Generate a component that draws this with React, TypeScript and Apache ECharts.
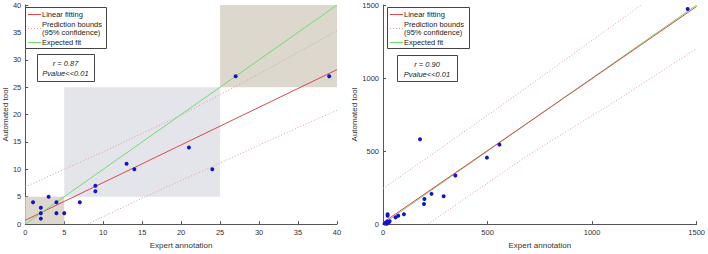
import React, { useEffect, useRef } from "react";
import * as echarts from "echarts";

// ---------- data ----------
const leftPoints: [number, number][] = [
  [1, 4], [2, 3], [2, 2], [2, 1], [3, 5], [4, 4], [4, 2], [5, 2], [7, 4],
  [9, 7], [9, 6], [13, 11], [14, 10], [21, 14], [24, 10], [27, 27], [39, 27],
];
const leftFit: [number, number][] = [[0, 0.7], [40, 28.2]];
const leftUpper: [number, number][] = [[0, 6.8], [10, 13.2], [20, 19.9], [30, 27.4], [40, 35.3]];
const leftLower: [number, number][] = [[8, 0], [16, 5.4], [24, 10.5], [32, 15.7], [40, 20.8]];
const leftExpected: [number, number][] = [[0, 0], [40, 40]];
const leftRegions: [number, number][] = [[0, 5], [5, 25], [25, 40]];

const rightPoints: [number, number][] = [
  [1457, 1472], [557, 544], [497, 455], [346, 332], [177, 581], [232, 207],
  [290, 190], [198, 172], [196, 137], [100, 68], [73, 57], [60, 46],
  [22, 68], [22, 57], [12, 8], [20, 18], [28, 12], [32, 20], [8, 4], [18, 2],
];
const rightFit: [number, number][] = [[0, 10], [1500, 1490]];
const rightUpper: [number, number][] = [[0, 243], [250, 493], [500, 745], [750, 1000], [1000, 1258], [1235, 1500]];
const rightLower: [number, number][] = [[215, 0], [698, 476], [1100, 830], [1500, 1203]];
const rightExpected: [number, number][] = [[0, 0], [1500, 1500]];

const legendLabels = ["Linear fitting", "Prediction bounds", "(95% confidence)", "Expected fit"];
const leftStats = ["r = 0.87", "Pvalue<<0.01"];
const rightStats = ["r = 0.90", "Pvalue<<0.01"];
const xName = "Expert annotation";
const yName = "Automated tool";

// ---------- styles ----------
const FONT = "Liberation Sans";
const RED = "#e0474c";
const GREEN = "#6fdc6f";
const BOUND = "#e89a9a";
const BLUE = "#1414c8";
const regionColors = ["#dcd8ce", "#e4e5ea", "#dcd8ce"];

function axis(max: number, interval: number, gridIndex: number, isX: boolean, gap: number) {
  return {
    type: "value",
    gridIndex,
    min: 0,
    max,
    interval,
    name: isX ? xName : yName,
    nameLocation: "middle",
    nameGap: gap,
    nameTextStyle: { fontFamily: FONT, fontSize: 8, color: "#333" },
    axisLine: { show: true, lineStyle: { color: "#555", width: 1 } },
    axisTick: { show: true, inside: true, length: 3, lineStyle: { color: "#555" } },
    axisLabel: {
      fontFamily: FONT, fontSize: 7.5, color: "#333", margin: 4,
      formatter: (v: number) => String(v),
    },
    splitLine: { show: false },
  };
}

function lineSeries(data: [number, number][], idx: number, color: string, dotted = false, z = 3) {
  return {
    type: "line",
    xAxisIndex: idx,
    yAxisIndex: idx,
    data,
    showSymbol: false,
    symbol: "none",
    clip: true,
    z,
    lineStyle: { color, width: 1, type: dotted ? [1, 2] : "solid" },
  };
}

function legendGraphic(x0: number, y0: number, w: number, h: number) {
  return [
    { type: "rect", shape: { x: x0 + 0.5, y: y0 + 0.5, width: w, height: h }, style: { fill: "#fff", stroke: "#444", lineWidth: 1 }, z: 10 },
    { type: "line", shape: { x1: x0 + 3, y1: y0 + 7.5, x2: x0 + 16, y2: y0 + 7.5 }, style: { stroke: RED, lineWidth: 1 }, z: 11 },
    { type: "text", x: x0 + 17, y: y0 + 7.5, style: { text: legendLabels[0], fontFamily: FONT, fontSize: 7.5, fill: "#222", verticalAlign: "middle" }, z: 11 },
    { type: "line", shape: { x1: x0 + 3, y1: y0 + 21.5, x2: x0 + 16, y2: y0 + 21.5 }, style: { stroke: BOUND, lineWidth: 1, lineDash: [1, 2] }, z: 11 },
    { type: "text", x: x0 + 17, y: y0 + 17, style: { text: legendLabels[1], fontFamily: FONT, fontSize: 7.5, fill: "#222", verticalAlign: "middle" }, z: 11 },
    { type: "text", x: x0 + 17, y: y0 + 25.5, style: { text: legendLabels[2], fontFamily: FONT, fontSize: 7.5, fill: "#222", verticalAlign: "middle" }, z: 11 },
    { type: "line", shape: { x1: x0 + 3, y1: y0 + 35.5, x2: x0 + 16, y2: y0 + 35.5 }, style: { stroke: GREEN, lineWidth: 1 }, z: 11 },
    { type: "text", x: x0 + 17, y: y0 + 35.5, style: { text: legendLabels[3], fontFamily: FONT, fontSize: 7.5, fill: "#222", verticalAlign: "middle" }, z: 11 },
  ];
}

function statGraphic(x0: number, y0: number, w: number, h: number, lines: string[]) {
  return [
    { type: "rect", shape: { x: x0 + 0.5, y: y0 + 0.5, width: w, height: h }, style: { fill: "#fff", stroke: "#444", lineWidth: 1 }, z: 10 },
    { type: "text", x: x0 + w / 2, y: y0 + 9.5, style: { text: lines[0], fontFamily: FONT, fontSize: 7.5, fontStyle: "italic", fill: "#222", align: "center", verticalAlign: "middle" }, z: 11 },
    { type: "text", x: x0 + w / 2, y: y0 + 19.5, style: { text: lines[1], fontFamily: FONT, fontSize: 7.5, fontStyle: "italic", fill: "#222", align: "center", verticalAlign: "middle" }, z: 11 },
  ];
}

export default function App() {
  const ref = useRef<HTMLDivElement>(null);
  useEffect(() => {
    if (!ref.current) return;
    const chart = echarts.init(ref.current, null, { renderer: "svg" });
    const regionData = leftRegions.map(([a, b], i) => [
      { xAxis: a, yAxis: a, itemStyle: { color: regionColors[i] } },
      { xAxis: b, yAxis: b },
    ]);
    chart.setOption({
      animation: false,
      grid: [
        { left: 22, top: 5, width: 315, height: 227 },
        { left: 383, top: 5, width: 316, height: 227 },
      ],
      xAxis: [axis(40, 5, 0, true, 9), axis(1500, 500, 1, true, 9)],
      yAxis: [axis(40, 5, 0, false, 13), axis(1500, 500, 1, false, 17)],
      series: [
        {
          type: "scatter",
          xAxisIndex: 0,
          yAxisIndex: 0,
          data: [],
          z: 1,
          markArea: { silent: true, data: regionData },
        },
        lineSeries(leftUpper, 0, BOUND, true),
        lineSeries(leftLower, 0, BOUND, true),
        lineSeries(leftFit, 0, RED, false),
        lineSeries(leftExpected, 0, GREEN, false),
        {
          type: "scatter", xAxisIndex: 0, yAxisIndex: 0, data: leftPoints,
          symbolSize: 4, itemStyle: { color: BLUE, opacity: 1 }, z: 5,
        },
        lineSeries(rightUpper, 1, BOUND, true),
        lineSeries(rightLower, 1, BOUND, true),
        lineSeries(rightExpected, 1, GREEN, false),
        lineSeries(rightFit, 1, RED, false),
        {
          type: "scatter", xAxisIndex: 1, yAxisIndex: 1, data: rightPoints,
          symbolSize: 4, itemStyle: { color: BLUE, opacity: 1 }, z: 5,
        },
      ],
      graphic: [
        ...legendGraphic(25, 7, 81, 41),
        ...statGraphic(37, 54, 57, 27, leftStats),
        ...legendGraphic(387, 7, 82, 41),
        ...statGraphic(397, 55, 60, 26, rightStats),
      ],
    });
    return () => chart.dispose();
  }, []);
  return (
    <div
      ref={ref}
      style={{ position: "fixed", left: 0, top: 0, width: 708, height: 254, background: "#fff" }}
    />
  );
}
